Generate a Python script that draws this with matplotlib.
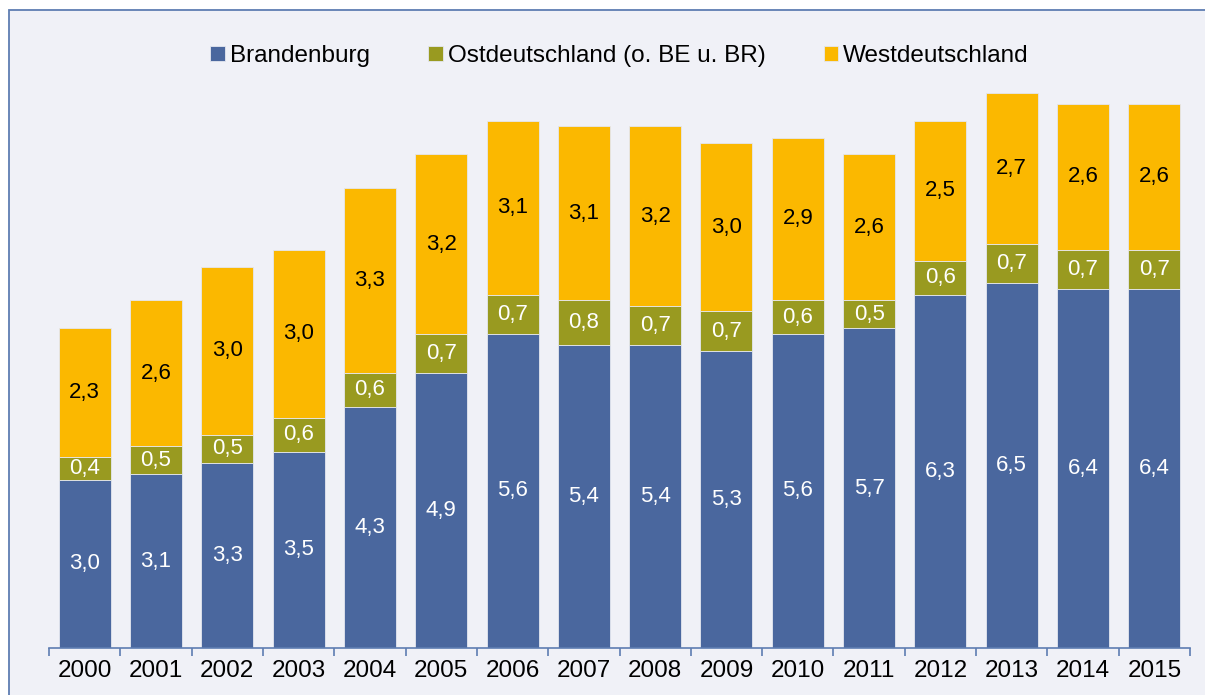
import matplotlib.pyplot as plt
from matplotlib.patches import Rectangle
import numpy as np

plt.rcParams['font.family'] = ['Liberation Sans', 'DejaVu Sans']

years = ['2000', '2001', '2002', '2003', '2004', '2005', '2006', '2007',
         '2008', '2009', '2010', '2011', '2012', '2013', '2014', '2015']
brandenburg = [3.0, 3.1, 3.3, 3.5, 4.3, 4.9, 5.6, 5.4, 5.4, 5.3, 5.6, 5.7, 6.3, 6.5, 6.4, 6.4]
ostdeutschland = [0.4, 0.5, 0.5, 0.6, 0.6, 0.7, 0.7, 0.8, 0.7, 0.7, 0.6, 0.5, 0.6, 0.7, 0.7, 0.7]
westdeutschland = [2.3, 2.6, 3.0, 3.0, 3.3, 3.2, 3.1, 3.1, 3.2, 3.0, 2.9, 2.6, 2.5, 2.7, 2.6, 2.6]
series_names = ['Brandenburg', 'Ostdeutschland (o. BE u. BR)', 'Westdeutschland']

c_blue = '#4A679E'
c_olive = '#999A20'
c_yellow = '#FBB800'
bg = '#F0F1F7'
frame = '#5E7DB2'

W, H = 1205, 695
fig = plt.figure(figsize=(W / 100, H / 100), dpi=100)
fig.patch.set_facecolor('white')

# framed background area (cut off at the right and bottom edge)
fig.patches.append(Rectangle((9 / W, -0.1), 1.2, 1 - 10 / H + 0.1,
                             transform=fig.transFigure, facecolor=bg,
                             edgecolor=frame, linewidth=1.3, zorder=-1))

ax = fig.add_axes([49 / W, 1 - 648 / H, (1190 - 49) / W, (648 - 31) / H])
ax.set_facecolor('none')

x = np.arange(len(years))
b1 = np.array(brandenburg)
b2 = np.array(ostdeutschland)
b3 = np.array(westdeutschland)
width = 0.73
kw = dict(width=width, edgecolor='#E4E7F0', linewidth=0.6)
ax.bar(x, b1, color=c_blue, label=series_names[0], **kw)
ax.bar(x, b2, bottom=b1, color=c_olive, label=series_names[1], **kw)
ax.bar(x, b3, bottom=b1 + b2, color=c_yellow, label=series_names[2], **kw)

def fmt(v):
    return '{:.1f}'.format(v).replace('.', ',')

for i in range(len(years)):
    ax.text(x[i], b1[i] / 2, fmt(b1[i]), ha='center', va='center', color='white', fontsize=16)
    ax.text(x[i], b1[i] + b2[i] / 2, fmt(b2[i]), ha='center', va='center', color='white', fontsize=16)
    ax.text(x[i], b1[i] + b2[i] + b3[i] / 2, fmt(b3[i]), ha='center', va='center', color='black', fontsize=16)

ax.set_xlim(-0.5, len(years) - 0.5)
ax.set_ylim(0, 11)
ax.set_yticks([])
for s in ['left', 'right', 'top']:
    ax.spines[s].set_visible(False)
ax.spines['bottom'].set_color(frame)
ax.spines['bottom'].set_linewidth(1.2)

ax.set_xticks(x)
ax.set_xticklabels(years, fontsize=17.5)
ax.tick_params(axis='x', length=0, pad=8.5)
ax.set_xticks(np.arange(-0.5, len(years)), minor=True)
ax.tick_params(axis='x', which='minor', length=6, width=1.2, color=frame)

ax.legend(loc='center', bbox_to_anchor=(0.5, (H - 56 - (H - 648)) / (648 - 31)),
          ncol=3, frameon=False, fontsize=17.5, handlelength=0.6, handleheight=0.6,
          handletextpad=0.2, columnspacing=2.4)

plt.savefig('out.png', dpi=100)
